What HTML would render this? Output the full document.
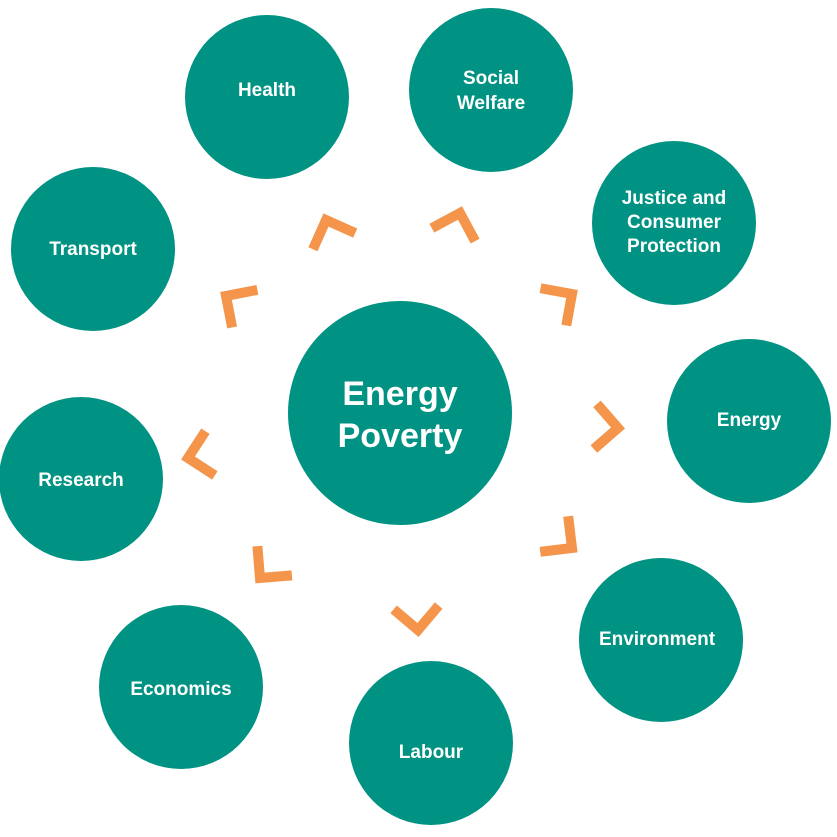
<!DOCTYPE html>
<html><head><meta charset="utf-8"><style>
html,body{margin:0;padding:0;background:#fff;}
svg{display:block}
text{font-family:"Liberation Sans",Arial,sans-serif;font-weight:bold;fill:#fff;text-anchor:middle}
</style></head><body>
<svg id="s" width="837" height="837" viewBox="0 0 837 837" xmlns="http://www.w3.org/2000/svg">
<g fill="#009282">
<circle cx="400" cy="413" r="112"/>
<circle cx="267" cy="97" r="82"/>
<circle cx="491" cy="90" r="82"/>
<circle cx="674" cy="223" r="82"/>
<circle cx="93" cy="249" r="82"/>
<circle cx="749" cy="421" r="82"/>
<circle cx="81" cy="479" r="82"/>
<circle cx="661" cy="640" r="82"/>
<circle cx="181" cy="687" r="82"/>
<circle cx="431" cy="743" r="82"/>
</g>
<text x="400" y="405" font-size="34">Energy</text>
<text x="400" y="447" font-size="34">Poverty</text>
<text x="267" y="96" font-size="19">Health</text>
<text x="491" y="84" font-size="19">Social</text>
<text x="491" y="109" font-size="19">Welfare</text>
<text x="674" y="204" font-size="19">Justice and</text>
<text x="674" y="228" font-size="19">Consumer</text>
<text x="674" y="252" font-size="19">Protection</text>
<text x="93" y="255" font-size="19">Transport</text>
<text x="749" y="426" font-size="19">Energy</text>
<text x="81" y="486" font-size="19">Research</text>
<text x="657" y="645" font-size="19">Environment</text>
<text x="181" y="695" font-size="19">Economics</text>
<text x="431" y="758" font-size="19">Labour</text>
<g id="ch" fill="none" stroke="#F4954B" stroke-width="10" stroke-linejoin="miter"></g>
</svg>
<script>
var pts=[[326,220],[460,213],[572,294],[618,428],[572,548],[418,630],[260,578],[188,458],[226,296]];
var g=document.getElementById('ch');var L=32,cx=400,cy=413;
pts.forEach(function(p){var a=Math.atan2(p[1]-cy,p[0]-cx);
var a1=a+Math.PI*0.75,a2=a-Math.PI*0.75;
var d=(p[0]+L*Math.cos(a1))+','+(p[1]+L*Math.sin(a1))+' '+p[0]+','+p[1]+' '+(p[0]+L*Math.cos(a2))+','+(p[1]+L*Math.sin(a2));
var e=document.createElementNS('http://www.w3.org/2000/svg','polyline');e.setAttribute('points',d);g.appendChild(e);});
</script>
</body></html>
